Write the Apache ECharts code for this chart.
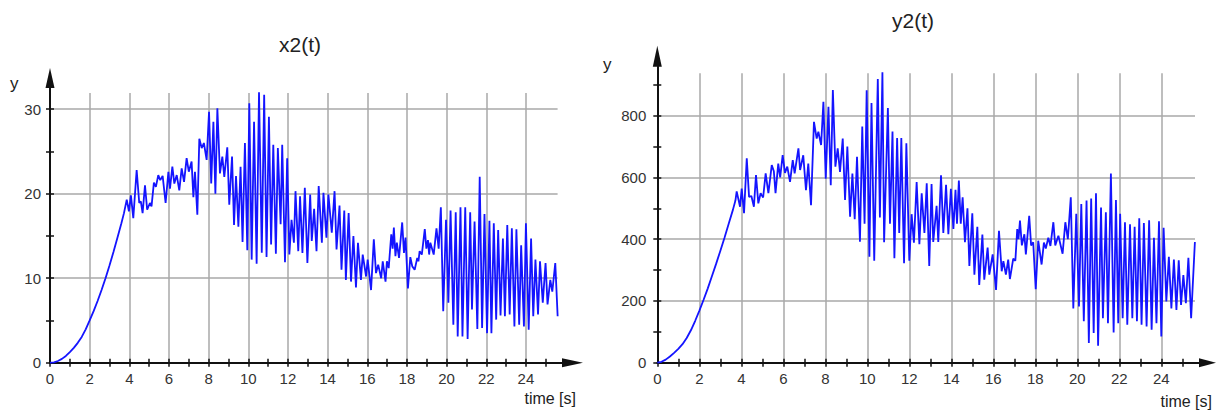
<!DOCTYPE html>
<html><head><meta charset="utf-8">
<script src="https://cdn.jsdelivr.net/npm/echarts@6/dist/echarts.min.js"></script>
<style>html,body{margin:0;padding:0;background:#fff}#c{width:1216px;height:413px}</style>
</head><body><div id="c"></div>
<script>
// ---- data: x2(t) ----
const x2Time = [0,0.2,0.4,0.6,0.8,1.0,1.2,1.4,1.6,1.8,2.0,2.2,2.4,2.6,2.8,3.0,3.2,3.4,3.6,3.73,3.87,3.98,4.08,4.2,4.37,4.5,4.58,4.67,4.79,4.9,5.04,5.12,5.24,5.34,5.46,5.56,5.68,5.83,5.97,6.05,6.17,6.27,6.39,6.52,6.64,6.76,6.89,7.0,7.14,7.23,7.31,7.43,7.53,7.65,7.76,7.9,8.02,8.13,8.24,8.34,8.44,8.57,8.69,8.79,8.94,9.04,9.18,9.28,9.38,9.5,9.61,9.71,9.83,9.95,10.05,10.17,10.29,10.42,10.54,10.68,10.8,10.92,11.04,11.15,11.26,11.39,11.49,11.63,11.71,11.85,11.96,12.07,12.18,12.3,12.38,12.52,12.61,12.73,12.85,12.98,13.12,13.2,13.32,13.44,13.55,13.71,13.79,13.94,14.04,14.21,14.35,14.45,14.6,14.7,14.84,14.92,15.06,15.18,15.3,15.43,15.53,15.68,15.77,15.94,16.02,16.19,16.33,16.44,16.55,16.7,16.78,16.92,16.99,17.08,17.21,17.28,17.34,17.42,17.49,17.6,17.76,17.85,17.93,18.05,18.17,18.27,18.39,18.52,18.58,18.64,18.75,18.9,18.98,19.06,19.12,19.18,19.35,19.49,19.6,19.71,19.83,19.97,20.09,20.2,20.34,20.46,20.56,20.7,20.8,20.94,21.06,21.19,21.28,21.41,21.55,21.67,21.79,21.91,22.04,22.16,22.26,22.38,22.5,22.6,22.72,22.84,22.94,23.06,23.18,23.29,23.42,23.52,23.66,23.76,23.9,24.0,24.14,24.26,24.37,24.48,24.61,24.71,24.85,24.99,25.09,25.23,25.33,25.48,25.6];
const x2Values = [0,0.05,0.2,0.45,0.8,1.25,1.75,2.35,3.05,3.95,5.0,6.1,7.3,8.6,10.0,11.5,13.1,14.8,16.5,17.7,19.3,17.9,19.8,17.1,22.8,18.9,19.1,17.7,21.0,18.1,18.9,18.5,21.3,20.8,22.2,21.6,22.1,18.9,22.6,20.6,23.2,21.2,22.2,20.4,23.0,21.4,24.2,22.6,23.8,19.6,22.6,17.5,26.5,25.4,26.0,24.0,29.7,21.2,28.5,20.0,30.1,22.4,24.4,22.0,25.5,18.7,24.4,16.3,22.1,16.1,23.2,14.3,26.0,13.3,30.7,12.2,28.5,11.7,32.0,13.0,31.7,12.5,29.1,14.0,25.8,12.9,25.4,16.4,25.8,11.9,24.2,12.8,16.9,14.2,20.3,13.2,19.7,13.0,20.7,11.8,19.9,14.4,18.2,13.2,20.9,14.2,20.1,14.8,19.9,15.4,20.3,13.4,18.6,11.0,18.0,9.8,17.7,9.6,15.0,8.9,14.2,9.8,12.8,10.2,12.2,8.6,14.6,10.6,11.6,10.0,12.0,9.6,12.0,11.2,15.2,13.5,16.0,12.6,14.2,12.4,16.6,13.0,14.8,8.8,12.5,11.4,11.0,12.4,12.0,13.2,12.8,15.8,13.5,14.5,12.8,14.2,12.8,15.9,13.5,18.4,6.1,16.9,7.1,18.0,4.5,17.8,3.1,18.4,3.1,18.4,2.8,17.8,6.3,16.7,4.0,22.0,4.1,17.6,3.5,16.8,3.5,16.5,5.1,15.7,5.6,14.7,5.5,16.3,5.7,15.9,4.3,15.8,4.5,13.9,4.3,16.5,3.9,14.7,5.5,12.2,5.7,12.0,7.1,11.8,6.9,9.8,8.4,11.8,5.5];

// ---- data: y2(t) ----
const y2Time = [0,0.2,0.4,0.6,0.8,1.0,1.2,1.4,1.6,1.8,2.0,2.2,2.4,2.6,2.8,3.0,3.2,3.4,3.6,3.72,3.78,3.94,4.02,4.13,4.26,4.37,4.48,4.6,4.7,4.81,4.92,5.04,5.16,5.29,5.45,5.55,5.63,5.76,5.85,5.97,6.08,6.19,6.32,6.45,6.54,6.72,6.8,6.95,7.08,7.19,7.32,7.46,7.59,7.67,7.8,7.91,8.02,8.15,8.26,8.36,8.48,8.59,8.7,8.83,8.94,9.05,9.18,9.29,9.4,9.51,9.65,9.76,9.87,9.97,10.1,10.2,10.33,10.5,10.6,10.72,10.8,10.98,11.08,11.2,11.29,11.42,11.52,11.62,11.75,11.86,12.0,12.11,12.22,12.35,12.48,12.59,12.72,12.83,12.95,13.06,13.14,13.3,13.38,13.51,13.62,13.75,13.86,13.98,14.1,14.2,14.27,14.36,14.45,14.54,14.65,14.77,14.86,15.0,15.1,15.24,15.33,15.48,15.57,15.73,15.81,15.97,16.13,16.27,16.4,16.48,16.6,16.71,16.79,16.95,17.05,17.14,17.2,17.27,17.36,17.48,17.55,17.71,17.8,17.9,18.02,18.14,18.3,18.41,18.5,18.62,18.72,18.86,18.95,19.1,19.3,19.43,19.55,19.69,19.81,19.95,20.08,20.19,20.31,20.44,20.55,20.66,20.78,20.89,20.99,21.13,21.22,21.36,21.46,21.6,21.73,21.84,21.95,22.04,22.16,22.27,22.38,22.51,22.62,22.73,22.84,22.95,23.06,23.17,23.3,23.42,23.54,23.65,23.77,23.89,24.0,24.11,24.24,24.36,24.48,24.6,24.72,24.83,24.94,25.05,25.17,25.29,25.42,25.6];
const y2Values = [0,3,10,20,32,45,60,80,105,135,168,203,240,280,320,362,405,450,495,525,555,505,564,484,662,537,540,505,608,516,549,535,613,549,640,620,549,645,600,672,615,635,586,656,613,694,624,672,559,645,510,780,726,748,705,845,596,829,575,883,635,694,618,726,527,700,473,613,465,667,392,765,450,882,343,841,330,919,470,941,390,825,450,749,338,728,420,728,322,711,330,481,389,585,384,549,420,581,313,579,391,508,391,607,420,576,416,563,433,560,450,590,450,536,390,500,313,484,285,440,252,415,269,373,285,351,236,427,296,329,285,334,271,337,330,433,400,460,380,416,351,476,380,390,238,395,318,389,370,405,378,455,380,411,353,455,400,536,176,482,182,514,134,525,64,532,96,549,55,503,144,487,128,613,98,527,128,482,144,455,123,448,144,440,134,468,123,452,117,461,107,405,128,458,85,437,198,343,176,334,171,332,187,284,193,340,144,391];

// ---- ticks and labels ----
const timeTicks = [0,1,2,3,4,5,6,7,8,9,10,11,12,13,14,15,16,17,18,19,20,21,22,23,24,25];
const timeLabels = [0,2,4,6,8,10,12,14,16,18,20,22,24];
const x2Ticks = [0,5,10,15,20,25,30];
const x2Labels = [0,10,20,30];
const y2Ticks = [0,100,200,300,400,500,600,700,800,900];
const y2Labels = [0,200,400,600,800];

// ---- layout (pixels) ----
const PL = {x0:50, y0:362.7, xs:19.83, ys:8.45, gridR:557.6, gridT:93, arrowX:562, arrowY:88, ax:[9,21], ay:[9,20], ymargin:9, yInt:10};
const PR = {x0:657.3, y0:362.7, xs:21.0, ys:0.30875, gridR:1195, gridT:73.3, arrowX:1199, arrowY:66.7, ax:[9,17], ay:[9,21], ymargin:11, yInt:200};

const FONT = 'Liberation Sans, Arial, sans-serif';
const AX = '#111';
const GRIDC = '#a8a8a8';

const grids = [], xAxes = [], yAxes = [], series = [];
function panel(p, time, vals, yTicks, yLabels) {
  const gi = grids.length;
  // grid A: gridlines + data
  grids.push({left:p.x0, top:p.gridT, width:p.gridR - p.x0, height:p.y0 - p.gridT});
  // grid B: axis lines with arrows, outside ticks, labels
  grids.push({left:p.x0, top:p.arrowY, width:p.arrowX - p.x0, height:p.y0 - p.arrowY});
  // grid C: inside ticks only
  grids.push({left:p.x0, top:p.arrowY, width:p.arrowX - p.x0, height:p.y0 - p.arrowY});
  const tickStyle = {color:AX, width:1.5};
  const none = {show:false};
  xAxes.push({type:'value', gridIndex:gi, min:0, max:(p.gridR - p.x0)/p.xs, interval:2,
    axisLine:none, axisLabel:none, axisTick:none,
    splitLine:{show:true, showMinLine:false, showMaxLine:false, lineStyle:{color:GRIDC, width:1.5}}});
  yAxes.push({type:'value', gridIndex:gi, min:0, max:(p.y0 - p.gridT)/p.ys, interval:p.yInt,
    axisLine:none, axisLabel:none, axisTick:none,
    splitLine:{show:true, showMinLine:false, showMaxLine:false, lineStyle:{color:GRIDC, width:1.5}}});
  const xMax = (p.arrowX - p.x0)/p.xs, yMax = (p.y0 - p.arrowY)/p.ys;
  xAxes.push({type:'value', gridIndex:gi+1, min:0, max:xMax,
    axisLine:{show:true, onZero:false, symbol:['none','triangle'], symbolSize:p.ax, symbolOffset:[0, p.ax[1]/2], lineStyle:{color:AX, width:2}},
    axisTick:{show:true, inside:false, length:4, customValues:timeTicks, lineStyle:tickStyle},
    axisLabel:{customValues:timeLabels, fontSize:15, color:'#333', margin:8, fontFamily:FONT},
    splitLine:none});
  yAxes.push({type:'value', gridIndex:gi+1, min:0, max:yMax,
    axisLine:{show:true, onZero:false, symbol:['none','triangle'], symbolSize:p.ay, symbolOffset:[0, p.ay[1]/2], lineStyle:{color:AX, width:2}},
    axisTick:{show:true, inside:false, length:4, customValues:yTicks, lineStyle:tickStyle},
    axisLabel:{customValues:yLabels, fontSize:15, color:'#333', margin:p.ymargin, fontFamily:FONT},
    splitLine:none});
  xAxes.push({type:'value', gridIndex:gi+2, min:0, max:xMax,
    axisLine:none, axisLabel:none, splitLine:none,
    axisTick:{show:true, inside:true, length:4, customValues:timeTicks, lineStyle:tickStyle}});
  yAxes.push({type:'value', gridIndex:gi+2, min:0, max:yMax,
    axisLine:none, axisLabel:none, splitLine:none,
    axisTick:{show:true, inside:true, length:4, customValues:yTicks, lineStyle:tickStyle}});
  series.push({type:'line', xAxisIndex:gi, yAxisIndex:gi, data:time.map((t,i)=>[t, vals[i]]),
    showSymbol:false, symbol:'none', clip:false, z:3,
    lineStyle:{color:'#1414ff', width:1.8}});
}
panel(PL, x2Time, x2Values, x2Ticks, x2Labels);
panel(PR, y2Time, y2Values, y2Ticks, y2Labels);

const T = (text, left, top, size, align) => ({text, left, top, padding:0, textAlign:align,
  textStyle:{fontSize:size, fontWeight:'normal', color:'#222', fontFamily:FONT}});

const chart = echarts.init(document.getElementById('c'), null, {renderer:'svg'});
chart.setOption({
  animation:false,
  textStyle:{fontFamily:FONT},
  title:[
    T('x2(t)', 300, 34, 21, 'center'),
    T('y2(t)', 913, 10, 21, 'center'),
    T('y', 10, 75, 17, 'left'),
    T('y', 603, 56, 17, 'left'),
    T('time [s]', 576, 390, 16, 'right'),
    T('time [s]', 1212, 393, 16, 'right')
  ],
  grid:grids, xAxis:xAxes, yAxis:yAxes, series:series
});
</script></body></html>
